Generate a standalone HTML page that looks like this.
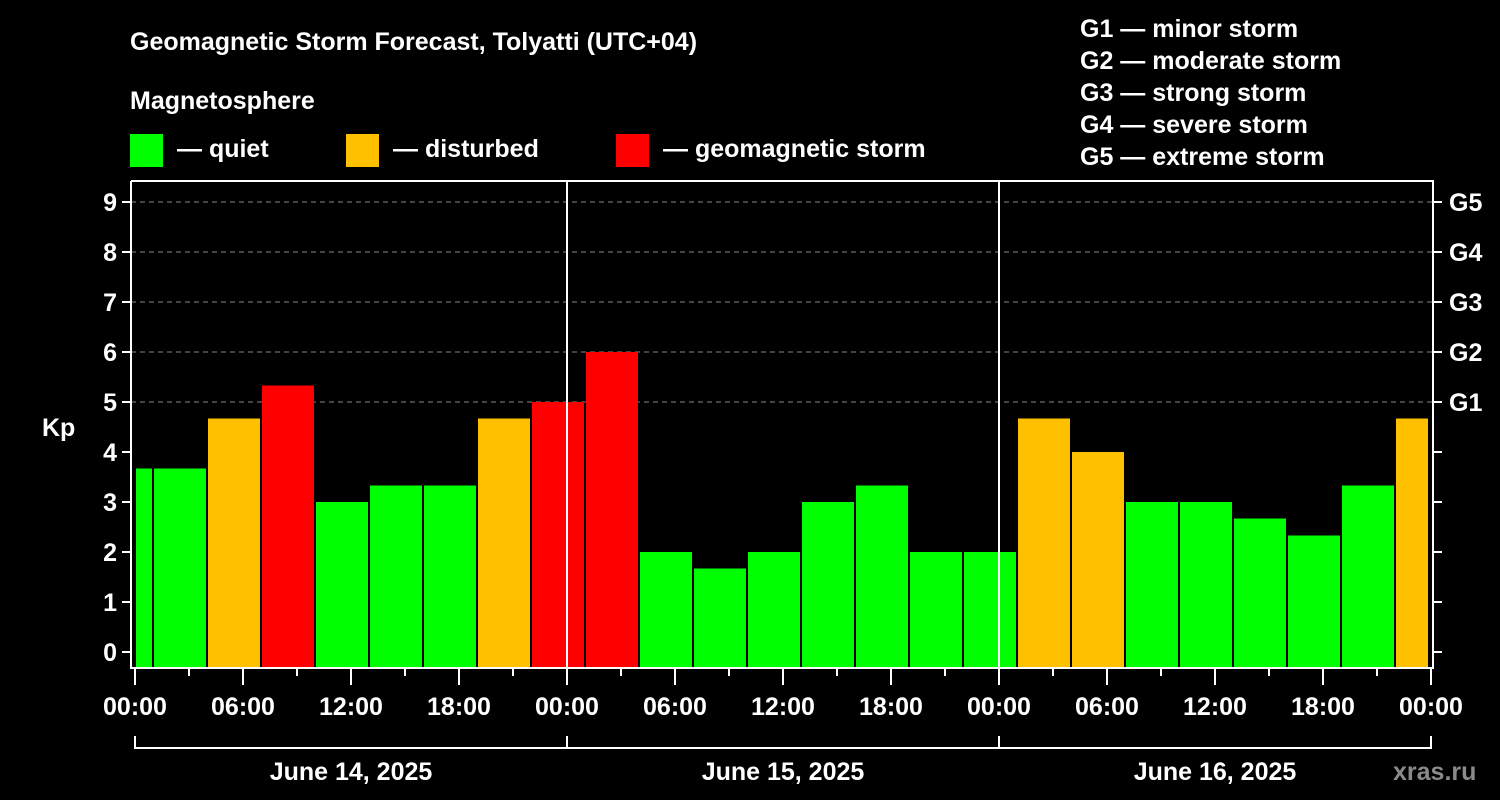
<!DOCTYPE html>
<html><head><meta charset="utf-8"><style>
body{margin:0;background:#000;}
svg{display:block;font-family:"Liberation Sans",sans-serif;font-weight:bold;}
</style></head><body>
<svg id="chart" width="1500" height="800" viewBox="0 0 1500 800">
<rect width="1500" height="800" fill="#000"/>
<text x="130" y="50" fill="#fff" font-size="25">Geomagnetic Storm Forecast, Tolyatti (UTC+04)</text>
<text x="130" y="109" fill="#fff" font-size="25">Magnetosphere</text>
<g>
<rect x="130" y="134" width="33" height="33" fill="#00ff00"/>
<text x="177" y="157" fill="#fff" font-size="25">— quiet</text>
<rect x="346" y="134" width="33" height="33" fill="#ffc000"/>
<text x="393" y="157" fill="#fff" font-size="25">— disturbed</text>
<rect x="616" y="134" width="33" height="33" fill="#ff0000"/>
<text x="663" y="157" fill="#fff" font-size="25">— geomagnetic storm</text>
</g>
<g fill="#fff" font-size="25">
<text x="1080" y="37">G1 — minor storm</text>
<text x="1080" y="69">G2 — moderate storm</text>
<text x="1080" y="101">G3 — strong storm</text>
<text x="1080" y="133">G4 — severe storm</text>
<text x="1080" y="165">G5 — extreme storm</text>
</g>
<text x="42" y="436" fill="#fff" font-size="25">Kp</text>
<text x="1393" y="780" fill="#8a8a8a" font-size="25">xras.ru</text>
<g id="plot"></g>
</svg>
<script>
const kpValues=[3.67,3.67,4.67,5.33,3,3.33,3.33,4.67,5,6,2,1.67,2,3,3.33,2,2,4.67,4,3,3,2.67,2.33,3.33,4.67];
const yTicks=[0,1,2,3,4,5,6,7,8,9];
const gLabels=["G1","G2","G3","G4","G5"];
const gLevels=[5,6,7,8,9];
const hourLabels=["00:00","06:00","12:00","18:00"];
const dayLabels=["June 14, 2025","June 15, 2025","June 16, 2025"];
const firstBarStartHour=-2;

const NS="http://www.w3.org/2000/svg";
const g=document.getElementById('plot');
const X0=135,PX=18,L=131,R=1433,T=181,B=668;
const x=h=>X0+PX*h;
const y=v=>652-50*v;
function el(tag,attrs,parent){const e=document.createElementNS(NS,tag);for(const k in attrs)e.setAttribute(k,attrs[k]);(parent||g).appendChild(e);return e;}
function color(v){return v>=5?"#ff0000":(v>=4?"#ffc000":"#00ff00");}

gLevels.forEach(v=>{
  const ln=el('line',{x1:L,x2:R,y1:y(v),y2:y(v),stroke:'#888','stroke-dasharray':'5,4','stroke-width':1});
  
  
});
kpValues.forEach((v,i)=>{
  let s=firstBarStartHour+3*i,e=s+3;
  let x1=Math.max(x(s)+1,L+5),x2=Math.min(x(e)-1,R-5);
  const r=el('rect',{x:x1,y:y(v),width:x2-x1,height:B-y(v),fill:color(v)});
  
  
});
[1,2].forEach(d=>{
  const ln=el('line',{x1:x(24*d),x2:x(24*d),y1:T,y2:B,stroke:'#fff','stroke-width':2});
  
  
});
const fr=el('path',{d:`M${L} ${T}V${B}H${R}V${T}H${L}`,fill:'none',stroke:'#fff','stroke-width':2});


yTicks.forEach(v=>{
  el('line',{x1:L-9,x2:L,y1:y(v),y2:y(v),stroke:'#fff','stroke-width':2});
  el('line',{x1:R,x2:R+9,y1:y(v),y2:y(v),stroke:'#fff','stroke-width':2});
  const t=el('text',{x:L-14,y:y(v)+9,fill:'#fff','font-size':25,'text-anchor':'end'});
  t.textContent=v;
  
  
});
gLevels.forEach((v,i)=>{
  const t=el('text',{x:1449,y:y(v)+9,fill:'#fff','font-size':25});
  t.textContent=gLabels[i];
  
  
});
for(let h=0;h<=72;h+=3){
  const major=h%6===0;
  el('line',{x1:x(h),x2:x(h),y1:B,y2:major?B+17:B+8,stroke:'#fff','stroke-width':2});
  if(major&&(h%24===0||true)){
    if(h%6===0){
      const lbl=h%24===0?"00:00":hourLabels[(h%24)/6];
      if(h%6===0&&(h%24===0||h%24===6||h%24===12||h%24===18)&&(h===72||true)){
        if(h%12===0||h%24===6||h%24===18){
          if([0,6,12,18].includes(h%24)&&(h%12===0||h%6===0)){
            if(h%12===0||true){}
          }
        }
      }
      if(h%12===0||h%24===6||h%24===18){
        if(h%12===0||h%6===0){
          if(h%12===0||true){
            if((h/6)%2===0||(h/6)%2===1){
              if(h%12===0||h%12===6){
                if(h%12===6&&false){}
              }
            }
          }
        }
      }
      if(h%12===0||h%12===6){
        if(h%6===0 && (h%12===0 || h%12===6)){
          if(h%12===0||h%24===6||h%24===18){
            const t=el('text',{x:x(h),y:715,fill:'#fff','font-size':25,'text-anchor':'middle'});
            t.textContent=lbl;
            
            
          }
        }
      }
    }
  }
}
const br=el('path',{d:`M${x(0)} 736V748H${x(72)}V736`,fill:'none',stroke:'#fff','stroke-width':2});


[1,2].forEach(d=>el('line',{x1:x(24*d),x2:x(24*d),y1:736,y2:748,stroke:'#fff','stroke-width':2}));
dayLabels.forEach((d,i)=>{
  const t=el('text',{x:x(24*i+12),y:780,fill:'#fff','font-size':25,'text-anchor':'middle'});
  t.textContent=d;
  
  
});
</script>
</body></html>
